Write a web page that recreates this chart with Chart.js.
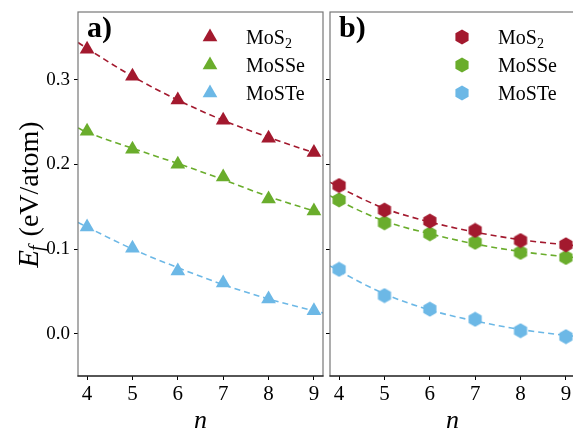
<!DOCTYPE html>
<html>
<head>
<meta charset="utf-8">
<script src="https://cdn.jsdelivr.net/npm/chart.js@4/dist/chart.umd.min.js"></script>
<style>
  html, body { margin: 0; padding: 0; background: #fff; overflow: hidden; width: 573px; height: 432px; }
  #wrapA { position: absolute; left: 0; top: 0; width: 326px; height: 432px; }
  #wrapB { position: absolute; left: 326px; top: 0; width: 262px; height: 432px; }
</style>
</head>
<body>
<div id="wrapA"><canvas id="chartA"></canvas></div>
<div id="wrapB"><canvas id="chartB"></canvas></div>
<script>
// data
const nValues = [4, 5, 6, 7, 8, 9];
const seriesNames = ['MoS', 'MoSSe', 'MoSTe'];

// panel a) (triangles)
const mos2A  = [0.336, 0.304, 0.276, 0.252, 0.231, 0.214];
const mosseA = [0.239, 0.218, 0.200, 0.185, 0.159, 0.145];
const mosteA = [0.126, 0.101, 0.074, 0.060, 0.041, 0.027];

// panel b) (hexagons)
const mos2B  = [0.175, 0.146, 0.133, 0.122, 0.110, 0.105];
const mosseB = [0.158, 0.131, 0.118, 0.108, 0.096, 0.090];
const mosteB = [0.076, 0.045, 0.029, 0.017, 0.0035, -0.0035];

// dashed fit curves, read at the panel edges and at each n
const fitN = [3.8, 4, 5, 6, 7, 8, 9, 9.2];
const fitMos2A  = [0.344, 0.337, 0.304, 0.276, 0.252, 0.232, 0.214, 0.211];
const fitMosseA = [0.243, 0.238, 0.219, 0.201, 0.182, 0.162, 0.145, 0.142];
const fitMosteA = [0.1315, 0.126, 0.100, 0.078, 0.058, 0.041, 0.027, 0.0245];
const fitMos2B  = [0.179, 0.173, 0.148, 0.132, 0.120, 0.111, 0.105, 0.104];
const fitMosseB = [0.163, 0.157, 0.133, 0.118, 0.106, 0.097, 0.091, 0.090];
const fitMosteB = [0.080, 0.074, 0.047, 0.028, 0.015, 0.005, -0.002, -0.003];

const xTicks = [4, 5, 6, 7, 8, 9];
const yTicks = [0.0, 0.1, 0.2, 0.3];

const colors = ['#a3192e', '#6aad2c', '#6cb8e6'];
const FONT = '"Liberation Serif", "Times New Roman", serif';

// hexagon marker (pointy top) as a canvas image
function hexagon(color) {
  const c = document.createElement('canvas');
  c.width = 16; c.height = 16;
  const g = c.getContext('2d');
  g.fillStyle = color;
  g.beginPath();
  for (let i = 0; i < 6; i++) {
    const a = Math.PI / 3 * i;
    const px = 8 + 7.6 * Math.sin(a), py = 8 - 7.6 * Math.cos(a);
    if (i === 0) g.moveTo(px, py); else g.lineTo(px, py);
  }
  g.closePath();
  g.fill();
  return c;
}

function pts(xs, ys) { return xs.map((x, i) => ({ x: x, y: ys[i] })); }

function makeDatasets(marks, fits, style, radius) {
  const ds = [];
  marks.forEach((vals, i) => {
    ds.push({
      label: seriesNames[i],
      data: pts(nValues, vals),
      showLine: false,
      pointStyle: style === 'hex' ? hexagon(colors[i]) : 'triangle',
      pointRadius: radius,
      pointHoverRadius: radius,
      backgroundColor: colors[i],
      borderWidth: 0,
      order: 0
    });
  });
  fits.forEach((vals, i) => {
    ds.push({
      label: 'fit',
      data: pts(fitN, vals),
      showLine: true,
      pointRadius: 0,
      borderColor: colors[i],
      borderWidth: 1.6,
      borderDash: [6, 4],
      cubicInterpolationMode: 'monotone',
      fill: false,
      order: 1
    });
  });
  return ds;
}

// frame, labels, legend
const panelPlugin = {
  id: 'panel',
  afterDraw(chart, args, opts) {
    const ctx = chart.ctx, a = chart.chartArea;
    ctx.save();
    ctx.lineWidth = 1.2;
    ctx.strokeStyle = '#777';
    ctx.strokeRect(a.left, a.top, a.right - a.left, a.bottom - a.top);
    ctx.strokeStyle = '#000';
    ctx.beginPath();
    ctx.moveTo(a.left - 0.6, a.bottom);
    ctx.lineTo(a.right + 0.6, a.bottom);
    ctx.stroke();

    // panel letter
    ctx.fillStyle = '#000';
    ctx.font = 'bold 30px ' + FONT;
    ctx.textAlign = 'left';
    ctx.textBaseline = 'alphabetic';
    ctx.fillText(opts.letter, a.left + 9, a.top + 25);

    // legend
    for (let i = 0; i < 3; i++) {
      const y = 37 + i * 28;
      const ds = chart.data.datasets[i];
      ctx.fillStyle = ds.backgroundColor;
      Chart.helpers.drawPoint(ctx, { pointStyle: ds.pointStyle, radius: ds.pointRadius, rotation: 0, borderWidth: 0 }, opts.legendX, y);
      ctx.fillStyle = '#000';
      ctx.font = '20px ' + FONT;
      const tx = opts.legendX + 36;
      ctx.fillText(ds.label, tx, y + 7);
      if (i === 0) {
        const w = ctx.measureText(ds.label).width;
        ctx.font = '14px ' + FONT;
        ctx.fillText('2', tx + w, y + 11);
      }
    }

    // x title
    ctx.font = 'italic 26px ' + FONT;
    ctx.textAlign = 'center';
    ctx.fillText('n', (a.left + a.right) / 2, 428);

    // y title
    if (opts.yTitle) {
      ctx.translate(38, (a.top + a.bottom) / 2);
      ctx.rotate(-Math.PI / 2);
      ctx.font = 'italic 29px ' + FONT;
      const wE = ctx.measureText('E').width;
      ctx.font = 'italic 20px ' + FONT;
      const wf = ctx.measureText('f').width;
      ctx.font = '28px ' + FONT;
      const rest = ' (eV/atom)';
      const wr = ctx.measureText(rest).width;
      let x0 = -(wE + wf + 2 + wr) / 2;
      ctx.textAlign = 'left';
      ctx.font = 'italic 29px ' + FONT;
      ctx.fillText('E', x0, 0);
      ctx.font = 'italic 20px ' + FONT;
      ctx.fillText('f', x0 + wE - 1, 5);
      ctx.font = '28px ' + FONT;
      ctx.fillText(rest, x0 + wE + wf + 1, 0);
    }
    ctx.restore();
  }
};

function makeChart(id, datasets, opts) {
  return new Chart(document.getElementById(id), {
    type: 'scatter',
    data: { datasets: datasets },
    plugins: [panelPlugin],
    options: {
      responsive: true,
      maintainAspectRatio: false,
      animation: false,
      layout: { autoPadding: false, padding: { left: 0, right: opts.padRight, top: 12, bottom: 0 } },
      plugins: {
        legend: { display: false },
        tooltip: { enabled: false },
        panel: { letter: opts.letter, legendX: opts.legendX, yTitle: opts.yTitle }
      },
      scales: {
        x: {
          type: 'linear',
          min: 3.8,
          max: 9.2,
          afterBuildTicks: s => { s.ticks = xTicks.map(v => ({ value: v })); },
          afterFit: s => { s.height = 56; s.paddingLeft = 0; s.paddingRight = 0; },
          border: { display: false },
          grid: { drawOnChartArea: false, drawTicks: true, tickLength: 4, color: '#000', lineWidth: 1 },
          ticks: { color: '#000', font: { family: FONT, size: 21 }, padding: 2, maxRotation: 0 }
        },
        y: {
          min: -0.05,
          max: 0.38,
          afterBuildTicks: s => { s.ticks = yTicks.map(v => ({ value: v })); },
          afterFit: s => { s.width = opts.yWidth; s.paddingTop = 0; s.paddingBottom = 0; },
          border: { display: false },
          grid: { drawOnChartArea: false, drawTicks: true, tickLength: 4, color: '#000', lineWidth: 1 },
          ticks: {
            display: opts.yLabels,
            color: '#000',
            font: { family: FONT, size: 19 },
            padding: 4,
            callback: v => v.toFixed(1)
          }
        }
      }
    }
  });
}

makeChart('chartA',
  makeDatasets([mos2A, mosseA, mosteA], [fitMos2A, fitMosseA, fitMosteA], 'triangle', 8.5),
  { letter: 'a)', legendX: 210, yTitle: true, yLabels: true, yWidth: 78, padRight: 3 });

makeChart('chartB',
  makeDatasets([mos2B, mosseB, mosteB], [fitMos2B, fitMosseB, fitMosteB], 'hex', 7.5),
  { letter: 'b)', legendX: 136, yTitle: false, yLabels: false, yWidth: 4, padRight: 13 });
</script>
</body>
</html>
